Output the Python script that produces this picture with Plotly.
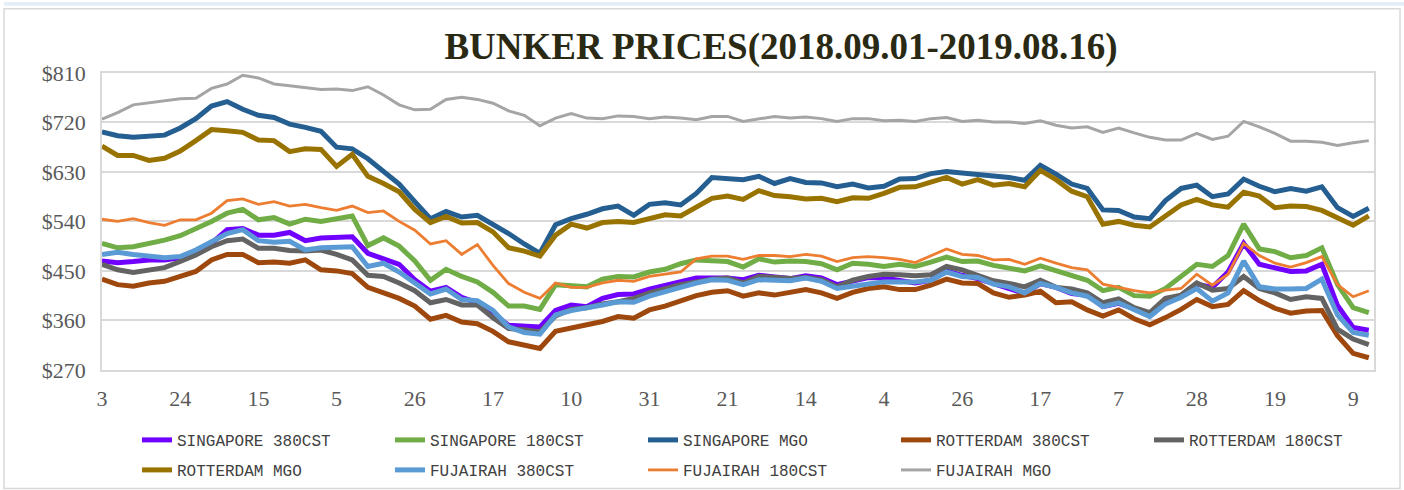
import plotly.graph_objects as go

# ---------------- data ----------------
# trading-day index (every 3rd trading day sampled), category axis positions
day_index = list(range(0, 244, 3))
tick_pos = list(range(0, 241, 15))
tick_labels = ["3", "24", "15", "5", "26", "17", "10", "31", "21",
               "14", "4", "26", "17", "7", "28", "19", "9"]
y_ticks = [270, 360, 450, 540, 630, 720, 810]

sg_380 = [468, 465, 467, 470, 470, 474, 486, 500, 525, 527,
          515, 515, 520, 505, 510, 510, 512, 482, 472, 462,
          434, 413, 420, 402, 392, 373, 351, 349, 348, 378,
          388, 385, 400, 407, 408, 417, 423, 430, 437, 437,
          437, 434, 442, 439, 436, 441, 437, 425, 431, 438,
          437, 433, 428, 433, 450, 442, 436, 427, 418, 409,
          427, 420, 409, 406, 385, 391, 382, 371, 392, 405,
          426, 420, 448, 500, 462, 455, 449, 450, 462, 387,
          347, 342]
sg_180 = [500, 492, 494, 499, 506, 514, 526, 540, 555, 562,
          543, 547, 535, 544, 540, 545, 550, 496, 510, 495,
          468, 433, 453, 440, 430, 411, 386, 386, 380, 425,
          424, 421, 435, 440, 439, 448, 453, 463, 470, 468,
          467, 457, 472, 466, 468, 467, 463, 452, 464, 462,
          458, 462, 458, 466, 475, 467, 468, 460, 456, 450,
          459, 450, 440, 433, 414, 420, 405, 404, 418, 440,
          462, 458, 478, 535, 490, 485, 474, 478, 492, 425,
          383, 374]
sg_mgo = [703, 696, 693, 695, 697, 710, 727, 750, 758, 744,
          733, 729, 717, 711, 704, 675, 672, 654, 632, 608,
          576, 545, 558, 548, 551, 535, 518, 499, 482, 534,
          545, 553, 563, 568, 551, 571, 574, 570, 591, 620,
          617, 616, 622, 609, 618, 611, 610, 603, 608, 601,
          604, 617, 618, 627, 631, 628, 627, 624, 620, 615,
          642, 626, 608, 600, 561, 560, 548, 545, 578, 600,
          606, 585, 590, 617, 604, 594, 600, 595, 603, 565,
          549, 564]
rt_380 = [435, 425, 422, 428, 431, 440, 449, 470, 480, 480,
          465, 466, 464, 470, 452, 450, 445, 420, 411, 400,
          386, 362, 369, 357, 354, 340, 321, 315, 309, 340,
          345, 352, 358, 367, 364, 379, 386, 396, 405, 411,
          414, 404, 410, 406, 412, 416, 410, 400, 411, 418,
          421, 416, 416, 424, 435, 428, 427, 410, 402, 406,
          413, 392, 394, 379, 368, 379, 363, 352, 365, 380,
          398, 385, 389, 414, 396, 382, 373, 377, 378, 332,
          300, 292]
rt_180 = [462, 452, 447, 452, 456, 467, 479, 494, 505, 508,
          491, 491, 487, 486, 488, 480, 470, 442, 440, 428,
          414, 392, 398, 388, 388, 365, 345, 343, 339, 368,
          380, 383, 390, 394, 400, 410, 418, 425, 430, 435,
          437, 428, 440, 437, 436, 438, 434, 421, 433, 440,
          444, 443, 441, 443, 458, 452, 442, 432, 427, 421,
          433, 420, 417, 410, 392, 399, 383, 374, 400, 406,
          428, 415, 418, 440, 418, 410, 398, 403, 400, 344,
          326, 316]
rt_mgo = [677, 660, 660, 651, 655, 668, 687, 707, 705, 702,
          688, 687, 667, 672, 671, 640, 662, 622, 609, 594,
          562, 538, 549, 537, 538, 521, 492, 486, 477, 515,
          535, 528, 538, 540, 538, 546, 552, 550, 567, 582,
          586, 580, 596, 587, 585, 581, 582, 576, 583, 582,
          591, 602, 603, 612, 620, 608, 616, 606, 609, 603,
          633, 616, 595, 585, 535, 540, 533, 530, 551, 570,
          580, 570, 566, 593, 586, 565, 568, 567, 560, 547,
          533, 550]
fj_380 = [480, 484, 480, 477, 474, 476, 488, 503, 518, 525,
          505, 502, 504, 488, 492, 493, 494, 458, 464, 448,
          428, 408, 417, 398, 396, 378, 348, 338, 335, 370,
          378, 382, 388, 394, 393, 404, 413, 420, 428, 434,
          433, 425, 434, 432, 432, 437, 431, 418, 423, 426,
          430, 430, 430, 433, 448, 440, 438, 426, 421, 410,
          427, 420, 410, 404, 385, 392, 380, 367, 390, 402,
          418, 395, 410, 468, 421, 417, 417, 418, 435, 370,
          338, 333]
fj_180 = [544, 540, 545, 538, 533, 543, 543, 555, 578, 581,
          571, 576, 568, 571, 565, 560, 568, 556, 559, 540,
          524, 499, 505, 480, 498, 460, 427, 411, 400, 428,
          420, 420, 428, 433, 431, 440, 444, 448, 472, 477,
          477, 471, 478, 478, 476, 480, 477, 467, 474, 476,
          474, 471, 465, 477, 490, 480, 478, 470, 471, 462,
          473, 464, 456, 452, 426, 420, 414, 410, 415, 418,
          444, 424, 444, 500, 478, 464, 457, 465, 476, 425,
          403, 414]
fj_mgo = [726, 738, 752, 756, 759, 763, 764, 782, 790, 806,
          801, 790, 787, 784, 780, 781, 778, 785, 770, 752,
          743, 744, 762, 766, 762, 755, 741, 733, 714, 728,
          736, 728, 727, 732, 731, 727, 730, 728, 725, 731,
          731, 722, 727, 731, 728, 730, 727, 722, 727, 727,
          723, 724, 722, 727, 729, 722, 724, 721, 721, 718,
          723, 715, 710, 712, 702, 710, 701, 693, 688, 688,
          700, 689, 695, 722, 712, 700, 686, 686, 684, 678,
          683, 687]

series_names = ["SINGAPORE 380CST", "SINGAPORE 180CST", "SINGAPORE MGO",
                "ROTTERDAM 380CST", "ROTTERDAM 180CST", "ROTTERDAM MGO",
                "FUJAIRAH 380CST", "FUJAIRAH 180CST", "FUJAIRAH MGO"]
series_values = [sg_380, sg_180, sg_mgo, rt_380, rt_180, rt_mgo,
                 fj_380, fj_180, fj_mgo]

# ---------------- styles ----------------
colors = ["#7000FF", "#70AD47", "#255E91", "#9E480E", "#636363",
          "#997300", "#5B9BD5", "#ED7D31", "#A5A5A5"]
widths = [5, 5, 5, 5, 5, 5, 5, 2.8, 3]
legend_rows = ["legend", "legend", "legend", "legend", "legend",
               "legend2", "legend2", "legend2", "legend2"]

W, H = 1404, 490
L, R, T, B = 102, 30, 73, 112
PW, PH = W - L - R, H - T - B


def px_x(p):
    return (p - L) / PW


def px_y(p):
    return (H - B - p) / PH


fig = go.Figure()
for name, vals, col, w, lg in zip(series_names, series_values, colors,
                                  widths, legend_rows):
    fig.add_trace(go.Scatter(x=day_index, y=vals, mode="lines", name=name,
                             legend=lg, line=dict(color=col, width=w)))

axis_font = dict(family="Liberation Serif", size=22, color="#595959")
grid_col = "#D9D9D9"
legend_font = dict(family="Liberation Mono", size=16, color="#404040")

fig.update_layout(
    width=W, height=H,
    margin=dict(l=L, r=R, t=T, b=B),
    paper_bgcolor="white", plot_bgcolor="white",
    title=dict(text="BUNKER PRICES(2018.09.01-2019.08.16)",
               font=dict(family="Liberation Serif", size=37, color="#2a2a14",
                         weight="bold"),
               x=781 / W, xref="container", xanchor="center",
               y=1 - 46 / H, yref="container", yanchor="middle"),
    xaxis=dict(range=[0, 244], tickvals=tick_pos, ticktext=tick_labels,
               showgrid=False, zeroline=False, showline=True, mirror=True,
               linecolor=grid_col, linewidth=1.5, ticks="",
               tickfont=axis_font, ticklabelstandoff=8),
    yaxis=dict(range=[270, 810], tickvals=y_ticks,
               ticktext=["$" + str(v) for v in y_ticks],
               showgrid=True, gridcolor=grid_col, gridwidth=1.5,
               zeroline=False, showline=True, mirror=True,
               linecolor=grid_col, linewidth=1.5, ticks="",
               tickfont=axis_font, ticklabelstandoff=10),
    legend=dict(orientation="h", x=137 / W, xref="container", xanchor="left",
                y=1 - 423 / H, yref="container", yanchor="top",
                entrywidth=208, entrywidthmode="pixels", font=legend_font,
                bgcolor="rgba(0,0,0,0)", traceorder="normal"),
    legend2=dict(orientation="h", x=137 / W, xref="container", xanchor="left",
                 y=1 - 453 / H, yref="container", yanchor="top",
                 entrywidth=208, entrywidthmode="pixels", font=legend_font,
                 bgcolor="rgba(0,0,0,0)", traceorder="normal"),
    shapes=[
        dict(type="rect", xref="paper", yref="paper",
             x0=px_x(4), x1=px_x(1400), y0=px_y(500), y1=px_y(7),
             line=dict(color="#D9D9D9", width=1.5), fillcolor="rgba(0,0,0,0)",
             layer="below"),
        dict(type="rect", xref="paper", yref="paper",
             x0=px_x(4), x1=px_x(1404), y0=px_y(4), y1=px_y(0),
             line=dict(width=0), fillcolor="#E4EEF8", layer="below"),
    ],
)

fig.write_html("out.html", config={"displayModeBar": False},
               post_script="document.body.style.margin='0px';")
